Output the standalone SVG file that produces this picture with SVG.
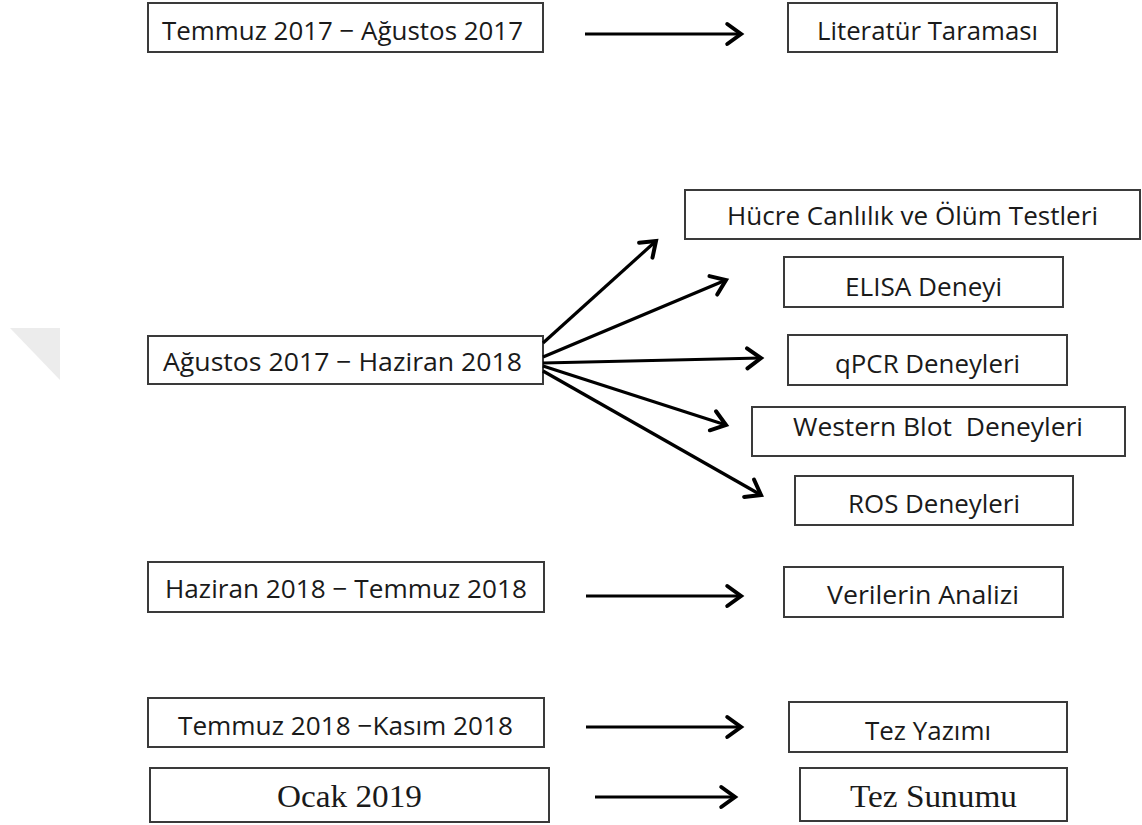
<svg xmlns="http://www.w3.org/2000/svg" width="1142" height="825" viewBox="0 0 1142 825">
<style>
.box{fill:#fff;stroke:#3a3a3a;stroke-width:2}
.t{font-family:"Open Sans","Noto Sans","Liberation Sans",sans-serif;font-size:26px;fill:#1a1a1a;text-anchor:start}
.s{font-family:"Liberation Serif","DejaVu Serif",serif;font-size:32px;fill:#1a1a1a}
.c{stroke:#000;stroke-width:3.2;fill:none;marker-end:url(#ah)}
</style>
<defs>
<marker id="ah" markerUnits="userSpaceOnUse" markerWidth="30" markerHeight="30" viewBox="-16 -12 20 24" refX="0" refY="0" orient="auto">
<path d="M-11,-8 L0,0 L-11,8" fill="none" stroke="#000" stroke-width="3.2" stroke-linejoin="miter" stroke-linecap="round"/>
</marker>
</defs>
<rect width="1142" height="825" fill="#fff"/>
<polygon points="10,328 60,328 60,380" fill="#ececec"/>

<g id="n1"><rect class="box" x="148" y="3" width="395" height="49"/><text class="t" x="162" y="40" textLength="361" lengthAdjust="spacingAndGlyphs">Temmuz 2017 − Ağustos 2017</text></g>
<g id="n2"><rect class="box" x="788" y="3" width="269" height="49"/><text class="t" x="817" y="40" textLength="221" lengthAdjust="spacingAndGlyphs">Literatür Taraması</text></g>
<g id="n3"><rect class="box" x="148" y="336" width="395" height="48"/><text class="t" x="163" y="371" textLength="359" lengthAdjust="spacingAndGlyphs">Ağustos 2017 − Haziran 2018</text></g>
<g id="n4"><rect class="box" x="685" y="190" width="455" height="49"/><text class="t" x="727" y="225" textLength="371" lengthAdjust="spacingAndGlyphs">Hücre Canlılık ve Ölüm Testleri</text></g>
<g id="n5"><rect class="box" x="784" y="257" width="279" height="50"/><text class="t" x="845" y="296" textLength="157" lengthAdjust="spacingAndGlyphs">ELISA Deneyi</text></g>
<g id="n6"><rect class="box" x="788" y="335" width="279" height="50"/><text class="t" x="835" y="373" textLength="185" lengthAdjust="spacingAndGlyphs">qPCR Deneyleri</text></g>
<g id="n7"><rect class="box" x="752" y="407" width="373" height="49"/><text class="t" x="793" y="436" textLength="290" lengthAdjust="spacingAndGlyphs" xml:space="preserve">Western Blot  Deneyleri</text></g>
<g id="n8"><rect class="box" x="795" y="476" width="278" height="49"/><text class="t" x="848" y="513" textLength="172" lengthAdjust="spacingAndGlyphs">ROS Deneyleri</text></g>
<g id="n9"><rect class="box" x="148" y="562" width="396" height="50"/><text class="t" x="165" y="598" textLength="362" lengthAdjust="spacingAndGlyphs">Haziran 2018 − Temmuz 2018</text></g>
<g id="n10"><rect class="box" x="784" y="567" width="279" height="50"/><text class="t" x="827" y="604" textLength="192" lengthAdjust="spacingAndGlyphs">Verilerin Analizi</text></g>
<g id="n11"><rect class="box" x="148" y="698" width="396" height="49"/><text class="t" x="178" y="735" textLength="335" lengthAdjust="spacingAndGlyphs">Temmuz 2018 −Kasım 2018</text></g>
<g id="n12"><rect class="box" x="789" y="702" width="278" height="50"/><text class="t" x="865" y="740" textLength="126" lengthAdjust="spacingAndGlyphs">Tez Yazımı</text></g>
<g id="n13"><rect class="box" x="150" y="768" width="399" height="54"/><text class="s" x="277" y="807" textLength="145" lengthAdjust="spacingAndGlyphs">Ocak 2019</text></g>
<g id="n14"><rect class="box" x="800" y="768" width="267" height="53"/><text class="s" x="850" y="807" textLength="167" lengthAdjust="spacingAndGlyphs">Tez Sunumu</text></g>

<g id="connectors">
<line class="c" x1="585" y1="34" x2="741" y2="34"/>
<line class="c" x1="543" y1="343" x2="656" y2="241"/>
<line class="c" x1="543" y1="357" x2="726" y2="280"/>
<line class="c" x1="543" y1="363" x2="761" y2="358"/>
<line class="c" x1="543" y1="366" x2="726" y2="425"/>
<line class="c" x1="543" y1="371" x2="761" y2="495"/>
<line class="c" x1="586" y1="596" x2="741" y2="596"/>
<line class="c" x1="586" y1="727" x2="741" y2="727"/>
<line class="c" x1="595" y1="797" x2="735" y2="797"/>
</g>
</svg>
